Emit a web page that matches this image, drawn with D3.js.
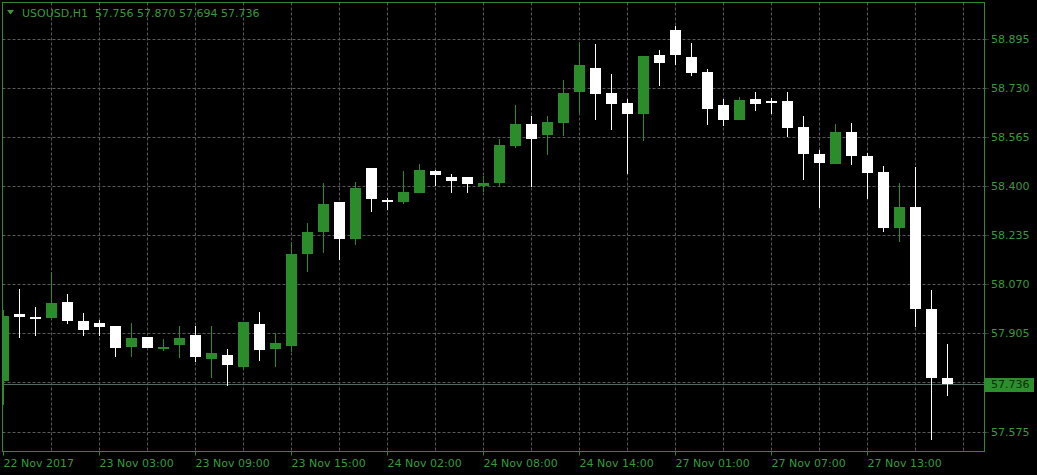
<!DOCTYPE html>
<html>
<head>
<meta charset="utf-8">
<script src="https://cdn.jsdelivr.net/npm/d3@7"></script>
<style>
  html, body { margin: 0; padding: 0; background: #000; }
  svg { display: block; }
  text { font-family: "DejaVu Sans", sans-serif; font-size: 11px; }
</style>
</head>
<body>
<svg id="chart" width="1037" height="475"></svg>
<script>
// ---- data ----
const symbol = "USOUSD,H1";
const lastBar = "57.756 57.870 57.694 57.736";
const open  = [57.745,57.970,57.960,57.957,58.010,57.946,57.939,57.929,57.860,57.892,
               57.857,57.867,57.899,57.818,57.832,57.793,57.936,57.853,57.863,58.172,
               58.246,58.346,58.223,58.460,58.353,58.347,58.376,58.450,58.430,58.430,
               58.400,58.410,58.534,58.608,58.571,58.611,58.715,58.796,58.712,58.678,
               58.641,58.840,58.923,58.833,58.782,58.671,58.621,58.692,58.685,58.685,
               58.598,58.507,58.474,58.581,58.500,58.447,58.259,58.329,57.986,57.756];
const high  = [57.983,58.054,57.993,58.110,58.037,57.973,57.950,57.929,57.939,57.892,
               57.887,57.929,57.929,57.929,57.852,57.943,57.976,57.906,58.212,58.275,
               58.410,58.346,58.413,58.460,58.358,58.450,58.474,58.453,58.440,58.430,
               58.433,58.557,58.672,58.635,58.635,58.756,58.883,58.877,58.776,58.692,
               58.836,58.857,58.937,58.880,58.793,58.692,58.698,58.715,58.695,58.715,
               58.635,58.521,58.608,58.611,58.510,58.467,58.410,58.463,58.050,57.870];
const low   = [57.664,57.890,57.897,57.957,57.937,57.896,57.896,57.826,57.826,57.856,
               57.845,57.823,57.809,57.756,57.729,57.782,57.813,57.793,57.843,58.112,
               58.176,58.152,58.202,58.313,58.320,58.339,58.376,58.400,58.376,58.376,
               58.379,58.396,58.527,58.396,58.504,58.568,58.645,58.621,58.588,58.440,
               58.551,58.736,58.806,58.769,58.604,58.601,58.621,58.651,58.641,58.564,
               58.420,58.326,58.474,58.470,58.356,58.245,58.212,57.926,57.546,57.694];
const close = [57.963,57.961,57.953,58.007,57.946,57.917,57.927,57.856,57.889,57.856,
               57.859,57.889,57.825,57.839,57.799,57.943,57.850,57.872,58.171,58.245,
               58.339,58.223,58.393,58.357,58.346,58.380,58.453,58.437,58.416,58.406,
               58.410,58.537,58.608,58.557,58.615,58.712,58.806,58.709,58.675,58.641,
               58.836,58.813,58.840,58.779,58.658,58.621,58.688,58.675,58.678,58.594,
               58.507,58.477,58.581,58.500,58.443,58.259,58.329,57.986,57.756,57.736];
const lastPrice = 57.736;
const yGridTicks  = [57.575,57.740,57.905,58.070,58.235,58.400,58.565,58.730,58.895];
const yLabelTicks = [57.575,57.905,58.070,58.235,58.400,58.565,58.730,58.895];
const xTickIndex  = [0,6,12,18,24,30,36,42,48,54];
const xTickLabels = ["22 Nov 2017","23 Nov 03:00","23 Nov 09:00","23 Nov 15:00","24 Nov 02:00",
                     "24 Nov 08:00","24 Nov 14:00","27 Nov 01:00","27 Nov 07:00","27 Nov 13:00"];

// ---- styles ----
const GREEN_TXT = "#3a9a3a", BORDER = "#2e8b2e", BULL = "#2a8c2a", BEAR = "#ffffff";
const GRID = "#5a5a5a";

const svg = d3.select("#chart");
const W = 1037, H = 475;
const plot = {left: 2.5, right: 984.5, top: 2.5, bottom: 451.5};

const bars = open.map((o, i) => ({i, o, h: high[i], l: low[i], c: close[i]}));

const x = d3.scaleLinear().domain([0, bars.length - 1]).range([3.5, 3.5 + 16 * (bars.length - 1)]);
const y = d3.scaleLinear().domain([57.575, 58.895]).range([431.5, 38.5]);

svg.append("rect").attr("width", W).attr("height", H).attr("fill", "#000");

svg.append("clipPath").attr("id", "clip")
  .append("rect").attr("x", plot.left + 0.5).attr("y", plot.top + 0.5)
  .attr("width", plot.right - plot.left - 1).attr("height", plot.bottom - plot.top - 1);

const g = svg.append("g").attr("clip-path", "url(#clip)");

// vertical grid every 3 bars
const vIdx = d3.range(3, bars.length + 1, 3);
g.selectAll(".vg").data(vIdx).join("line")
  .attr("x1", d => x(d)).attr("x2", d => x(d))
  .attr("y1", plot.top).attr("y2", plot.bottom)
  .attr("stroke", GRID).attr("stroke-dasharray", "3,2");

// horizontal grid
g.selectAll(".hg").data(yGridTicks).join("line")
  .attr("x1", plot.left).attr("x2", plot.right)
  .attr("y1", d => Math.round(y(d)) + 0.5).attr("y2", d => Math.round(y(d)) + 0.5)
  .attr("stroke", GRID).attr("stroke-dasharray", "3,2");

// last price line
g.append("line")
  .attr("x1", plot.left).attr("x2", plot.right)
  .attr("y1", Math.round(y(lastPrice)) + 0.5).attr("y2", Math.round(y(lastPrice)) + 0.5)
  .attr("stroke", "#4e6a62").attr("stroke-width", 1);

// candles
const cg = g.selectAll(".c").data(bars).join("g");
cg.append("line")
  .attr("x1", d => x(d.i)).attr("x2", d => x(d.i))
  .attr("y1", d => Math.round(y(d.h))).attr("y2", d => Math.round(y(d.l)))
  .attr("stroke", d => d.c >= d.o ? BULL : BEAR).attr("stroke-width", 1);
cg.append("rect")
  .attr("x", d => x(d.i) - 5.5)
  .attr("width", 11)
  .attr("y", d => Math.round(y(Math.max(d.o, d.c))))
  .attr("height", d => Math.max(2, Math.round(y(Math.min(d.o, d.c))) - Math.round(y(Math.max(d.o, d.c)))))
  .attr("fill", d => d.c >= d.o ? BULL : BEAR);

// plot border
svg.append("rect")
  .attr("x", plot.left).attr("y", plot.top)
  .attr("width", plot.right - plot.left).attr("height", plot.bottom - plot.top)
  .attr("fill", "none").attr("stroke", BORDER);

// right axis
const yAxis = svg.append("g").attr("transform", `translate(${plot.right},0)`)
  .call(d3.axisRight(y).tickValues(yLabelTicks).tickSize(4).tickPadding(2.5).tickFormat(d3.format(".3f")));
yAxis.select(".domain").remove();
yAxis.selectAll(".tick line").attr("stroke", GRID).attr("stroke-dasharray", "2,1");
yAxis.selectAll("text").attr("fill", GREEN_TXT).style("font-family", "DejaVu Sans").style("font-size", "11px");
yAxis.selectAll(".tick").attr("transform", d => `translate(0,${Math.round(y(d)) + 0.5})`);

// bottom axis
const xAxis = svg.append("g").attr("transform", `translate(0,${plot.bottom})`)
  .call(d3.axisBottom(x).tickValues(xTickIndex).tickSize(4)
    .tickFormat(d => xTickLabels[xTickIndex.indexOf(d)]));
xAxis.select(".domain").remove();
xAxis.selectAll(".tick line").attr("stroke", BORDER);
xAxis.selectAll(".tick").attr("transform", d => `translate(${Math.max(x(d), plot.left)},0)`);
xAxis.selectAll("text").attr("fill", GREEN_TXT).attr("text-anchor", "start").attr("x", 0).attr("y", 8)
  .style("font-family", "DejaVu Sans").style("font-size", "11px");

// last price label
const ly = Math.round(y(lastPrice)) + 0.5;
svg.append("rect").attr("x", 985).attr("y", ly - 6.5).attr("width", 49).attr("height", 14).attr("fill", "#2b8f2b");
svg.append("text").attr("x", 991).attr("y", ly).attr("dy", "0.34em").attr("fill", "#0b2e0b")
  .text(d3.format(".3f")(lastPrice));

// title
svg.append("path").attr("d", "M7,10 L14,10 L10.5,14.5 Z").attr("fill", GREEN_TXT);
svg.append("text").attr("x", 22).attr("y", 17).attr("fill", GREEN_TXT).text(symbol);
svg.append("text").attr("x", 95).attr("y", 17).attr("fill", GREEN_TXT).text(lastBar);
</script>
</body>
</html>
